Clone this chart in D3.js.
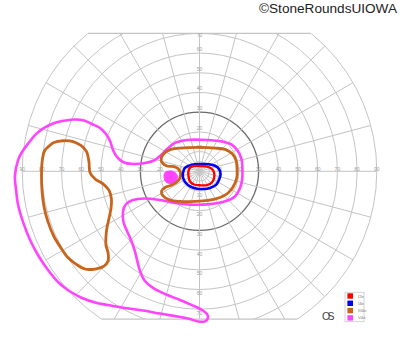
<!DOCTYPE html>
<html>
<head>
<meta charset="utf-8">
<title>Goldmann visual field OS</title>
<script src="https://d3js.org/d3.v7.min.js"></script>
<style>
  body { margin:0; background:#fff; }
  svg { display:block; font-family:"Liberation Sans", Arial, sans-serif; }
</style>
</head>
<body>
<div id="chart"></div>
<script>
// isopters, [x deg, y deg] (temporal left for OS, superior up)
var v4e = [[-93.7,-2.4],[-92.1,5.7],[-90.1,9.8],[-87.1,13.9],[-83.0,18.9],[-78.9,22.0],[-74.4,24.3],[-69.8,25.5],
  [-63.7,26.3],[-58.6,25.8],[-54.6,24.0],[-50.5,22.0],[-47.5,18.9],[-45.4,15.4],[-43.9,10.8],[-41.9,7.3],
  [-38.8,4.7],[-33.8,3.7],[-27.7,4.2],[-23.1,5.5],[-19.5,8.3],[-16.5,11.3],[-12.4,14.4],[-6.3,15.9],
  [3.8,15.9],[11.4,15.1],[16.5,13.4],[19.5,10.3],[21.3,6.2],[21.8,0.7],[21.6,-4.4],[20.6,-8.5],
  [18.0,-12.8],[13.5,-15.1],[3.8,-16.8],[-4.8,-16.9],[-12.4,-16.1],[-20.1,-14.6],[-27.7,-13.8],[-33.8,-14.6],
  [-37.3,-16.6],[-38.8,-20.2],[-38.6,-25.7],[-36.8,-30.3],[-34.8,-34.9],[-33.0,-39.9],[-31.7,-45.0],[-30.2,-50.6],
  [-27.7,-55.7],[-23.6,-59.2],[-17.5,-62.3],[-9.9,-65.3],[-3.8,-67.9],[1.3,-70.4],[3.8,-72.4],[4.3,-74.4],
  [2.8,-76.2],[-0.8,-76.2],[-5.8,-74.7],[-12.4,-73.5],[-20.1,-72.2],[-28.7,-70.7],[-37.8,-69.4],[-46.4,-67.9],
  [-53.0,-66.6],[-59.6,-64.3],[-65.7,-61.0],[-71.3,-56.7],[-76.9,-50.1],[-82.0,-42.5],[-86.0,-34.9],[-89.6,-25.7],
  [-92.1,-17.0],[-93.1,-9.5]];
var v4eIsland = [[-17.5,-0.6],[-15.0,0.2],[-12.4,-0.6],[-11.2,-2.6],[-11.9,-4.9],[-14.5,-6.2],[-17.0,-5.4],[-18.0,-2.9]];
var iii4eCentral = [[-19.2,7.4],[-17.5,9.5],[-14.5,11.1],[-9.9,11.8],[0.3,12.1],[7.9,11.8],[13.0,11.1],[16.5,9.0],
  [18.5,5.7],[19.0,2.2],[18.9,-3.4],[17.0,-8.0],[14.5,-11.0],[10.4,-13.3],[4.3,-14.8],[-2.3,-15.3],
  [-9.9,-15.3],[-15.0,-14.6],[-18.5,-12.5],[-19.3,-10.0],[-17.5,-8.2],[-14.0,-7.0],[-10.9,-4.9],[-9.6,-1.9],
  [-10.4,0.9],[-12.9,2.4],[-16.5,2.7],[-18.8,4.2],[-19.5,5.7]];
var iii4eTemporal = [[-80.2,-2.4],[-79.9,4.7],[-78.7,10.3],[-76.4,12.8],[-73.9,14.6],[-69.3,15.5],[-64.2,15.1],
  [-60.2,13.1],[-57.4,10.1],[-56.1,4.7],[-55.6,-0.6],[-53.0,-3.9],[-49.0,-6.4],[-45.9,-9.7],[-44.7,-14.1],
  [-44.9,-18.7],[-45.9,-23.7],[-47.0,-28.8],[-47.5,-33.4],[-47.5,-37.4],[-46.4,-41.5],[-46.4,-45.5],
  [-48.5,-48.1],[-53.0,-49.6],[-58.1,-49.6],[-62.7,-47.1],[-66.8,-43.8],[-70.3,-38.9],[-73.9,-33.1],
  [-76.9,-25.7],[-78.9,-18.1],[-79.9,-10.5]];
var i4e = [[-8.4,-1.0],[-7.4,1.7],[-5.3,2.9],[-2.3,3.6],[1.3,3.7],[4.8,3.6],[7.9,2.8],[9.9,1.2],[10.7,-1.4],
  [9.9,-4.4],[8.4,-6.9],[5.3,-8.5],[1.8,-9.0],[-1.8,-8.7],[-4.8,-7.7],[-7.1,-5.7],[-8.3,-3.4]];
var i2e = [[-5.6,0.2],[-4.8,1.9],[-2.8,2.7],[0.3,2.7],[3.8,2.4],[6.1,1.4],[7.4,-0.6],[7.4,-3.4],[6.3,-5.7],
  [3.8,-7.0],[0.3,-7.1],[-2.8,-6.7],[-4.8,-5.2],[-5.6,-2.4]];

var legendNames = ["I2e", "I4e", "III4e", "V4e"];
var legendColors = ["#ff0000", "#0000f0", "#c8641c", "#ff44ff"];

var ringDegrees = [5, 10, 20, 30, 40, 50, 60, 70, 80, 90];
var meridians = d3.range(0, 360, 15);
var sideLabels = [10, 20, 30, 40, 50, 60, 70, 80, 90];
var upLabels = [10, 20, 30, 40, 50, 60, 70];
var downLabels = [10, 20, 30, 40, 50, 60, 70];
var topLimit = 70, bottomLimit = 75;

const width = 400, height = 352;
const cx = 199.5, cy = 171.3, pxPerDeg = 1.97;

const x = d3.scaleLinear().domain([0, 90]).range([cx, cx + 90 * pxPerDeg]);
const y = d3.scaleLinear().domain([0, 90]).range([cy, cy - 90 * pxPerDeg]);
const r = d3.scaleLinear().domain([0, 90]).range([0, 90 * pxPerDeg]);

const svg = d3.select("#chart").append("svg")
  .attr("width", width)
  .attr("height", height);

svg.append("clipPath").attr("id", "field")
  .append("rect")
  .attr("x", 0).attr("y", y(topLimit))
  .attr("width", width).attr("height", y(-bottomLimit) - y(topLimit));

const grid = svg.append("g").attr("clip-path", "url(#field)");

grid.selectAll("circle.ring")
  .data(ringDegrees)
  .enter().append("circle")
  .attr("class", "ring")
  .attr("cx", x(0)).attr("cy", y(0))
  .attr("r", d => r(d))
  .attr("fill", "none")
  .attr("stroke", d => d == 30 ? "#6b6b6b" : "#c4c4c4")
  .attr("stroke-width", d => d == 30 ? 1.3 : 1);

grid.selectAll("line.meridian")
  .data(meridians)
  .enter().append("line")
  .attr("class", "meridian")
  .attr("x1", x(0)).attr("y1", y(0))
  .attr("x2", d => x(90 * Math.cos(d * Math.PI / 180)))
  .attr("y2", d => y(90 * Math.sin(d * Math.PI / 180)))
  .attr("stroke", "#c4c4c4")
  .attr("stroke-width", 1);

// flat top and bottom edges of the chart
[topLimit, -bottomLimit].forEach(function(v) {
  var half = Math.sqrt(90 * 90 - v * v);
  svg.append("line")
    .attr("x1", x(-half)).attr("x2", x(half))
    .attr("y1", y(v)).attr("y2", y(v))
    .attr("stroke", "#c4c4c4")
    .attr("stroke-width", 1.2);
});

// degree numbers
const labels = svg.append("g")
  .attr("font-size", 5)
  .attr("fill", "#a0a0a0")
  .attr("text-anchor", "middle");
sideLabels.forEach(function(d) {
  labels.append("text").attr("x", x(-d)).attr("y", y(0) - 0.5).text(d);
  labels.append("text").attr("x", x(d)).attr("y", y(0) - 0.5).text(d);
});
upLabels.forEach(function(d) {
  labels.append("text").attr("x", x(0))
    .attr("y", d == topLimit ? y(d) + 3.5 : y(d) - 2.2).text(d);
});
downLabels.forEach(function(d) {
  labels.append("text").attr("x", x(0)).attr("y", y(-d) + 5.5).text(d);
});

const isopter = d3.line()
  .x(d => x(d[0]))
  .y(d => y(d[1]))
  .curve(d3.curveCatmullRomClosed.alpha(0.5));

svg.append("path").attr("d", isopter(v4e))
  .attr("fill", "none").attr("stroke", legendColors[3]).attr("stroke-width", 2.6);
svg.append("path").attr("d", isopter(v4eIsland))
  .attr("fill", legendColors[3]).attr("stroke", legendColors[3]).attr("stroke-width", 1);
svg.append("path").attr("d", isopter(iii4eTemporal))
  .attr("fill", "none").attr("stroke", legendColors[2]).attr("stroke-width", 2.8);
svg.append("path").attr("d", isopter(iii4eCentral))
  .attr("fill", "none").attr("stroke", legendColors[2]).attr("stroke-width", 2.8);
svg.append("path").attr("d", isopter(i4e))
  .attr("fill", "none").attr("stroke", legendColors[1]).attr("stroke-width", 2.6);
svg.append("path").attr("d", isopter(i2e))
  .attr("fill", "none").attr("stroke", legendColors[0]).attr("stroke-width", 2.4);

// legend
const legend = svg.append("g").attr("transform", "translate(345,292.3)");
legend.append("rect")
  .attr("width", 19).attr("height", 29.4)
  .attr("fill", "#fff").attr("stroke", "#c8c8c8").attr("stroke-width", 0.8);
legendNames.forEach(function(name, i) {
  legend.append("rect")
    .attr("x", 2.4).attr("y", 1 + i * 7.3)
    .attr("width", 5.6).attr("height", 5.4)
    .attr("fill", legendColors[i]);
  legend.append("text")
    .attr("x", 13).attr("y", 5.3 + i * 7.3)
    .attr("font-size", 4.3)
    .attr("fill", "#777")
    .text(name);
});

svg.append("text")
  .attr("x", 322).attr("y", 320)
  .attr("font-size", 10.5)
  .attr("fill", "#444")
  .attr("textLength", 12.5)
  .text("OS");

svg.append("text")
  .attr("x", 397).attr("y", 13.3)
  .attr("text-anchor", "end")
  .attr("font-size", 13.6)
  .attr("fill", "#222")
  .text("\u00a9StoneRoundsUIOWA");
</script>
</body>
</html>
